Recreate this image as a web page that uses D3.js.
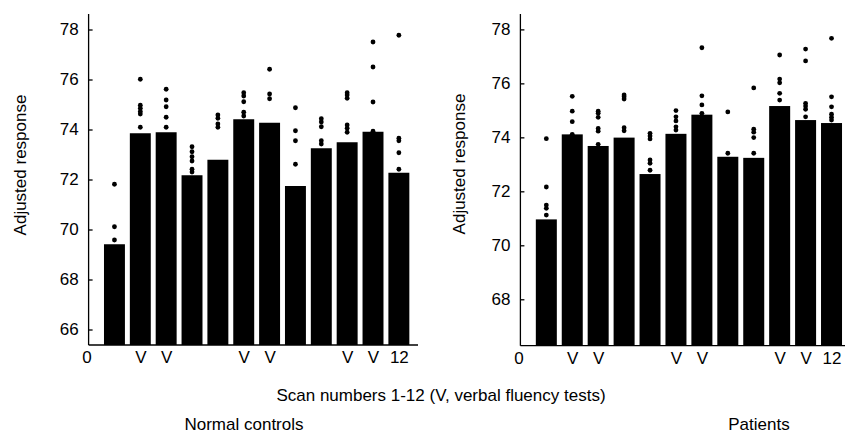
<!DOCTYPE html>
<html><head><meta charset="utf-8">
<script src="https://cdn.jsdelivr.net/npm/d3@7"></script>
<style>
html,body{margin:0;padding:0;background:#fff;}
text{font-family:"Liberation Sans",Arial,sans-serif;fill:#000;}
</style></head>
<body>
<svg id="c" width="845" height="433"></svg>
<script>
// ---- data ----
const scans = [1,2,3,4,5,6,7,8,9,10,11,12];
const xTickValues = [0,2,3,6,7,10,11,12];
const xTickLabels = ["0","V","V","V","V","V","V","12"];
const yTicksControls = [66,68,70,72,74,76,78];
const yTicksPatients = [68,70,72,74,76,78];

const controlsMeans = [69.41,73.85,73.89,72.17,72.79,74.41,74.27,71.74,73.25,73.49,73.91,72.27];
const controlsPoints = [
  [71.81,70.11,69.58],
  [76.01,74.97,74.85,74.72,74.62,74.09],
  [75.61,75.18,74.91,74.49,74.09],
  [73.31,73.11,72.91,72.74,72.41,72.3],
  [74.58,74.45,74.22,74.09],
  [75.47,75.34,75.11,74.69,74.54],
  [76.41,75.42,75.23],
  [74.87,73.95,73.55,72.61],
  [74.43,74.3,74.11,73.55,73.42],
  [75.47,75.38,75.25,74.18,74.05,73.89],
  [77.5,76.5,75.1,73.93],
  [77.77,73.65,73.55,73.07,72.41]
];

const patientsMeans = [70.96,74.11,73.68,73.99,72.64,74.13,74.84,73.28,73.24,75.16,74.64,74.53];
const patientsPoints = [
  [73.95,72.16,71.49,71.37,71.12],
  [75.52,74.97,74.58,74.11],
  [74.97,74.89,74.74,74.33,74.23,73.74],
  [75.57,75.5,75.42,74.36,74.24],
  [74.15,74.05,73.94,73.16,73.04,72.78],
  [74.99,74.76,74.61,74.39,74.27],
  [77.32,75.54,75.2,74.89],
  [74.94,73.41],
  [75.83,74.3,74.19,73.99,73.41],
  [77.05,76.16,76.02,75.63,75.38],
  [77.27,76.83,75.26,75.16,75.04,74.76],
  [77.67,75.5,75.13,74.86,74.74,74.64]
];

const xTitle = "Scan numbers 1-12 (V, verbal fluency tests)";
const yTitle = "Adjusted response";
const panelTitles = ["Normal controls","Patients"];

// ---- drawing ----
const svg = d3.select("#c");
const FS = 17;

function panel(cfg){
  const g = svg.append("g");
  const x = d3.scaleLinear().domain(cfg.xDomain).range(cfg.xRange);
  const y = d3.scaleLinear().domain(cfg.yDomain).range(cfg.yRange);
  const bw = x(0.81) - x(0);

  g.selectAll("rect.bar").data(cfg.means).join("rect")
    .attr("class","bar")
    .attr("x",(d,i)=>x(scans[i]) - bw/2)
    .attr("width",bw)
    .attr("y",d=>y(d))
    .attr("height",d=>y(cfg.yDomain[0]) - y(d))
    .attr("fill","#000");

  const pts = [];
  cfg.points.forEach((arr,i)=>arr.forEach(v=>pts.push({s:scans[i],v})));
  g.selectAll("circle.pt").data(pts).join("circle")
    .attr("class","pt")
    .attr("cx",d=>x(d.s)).attr("cy",d=>y(d.v)).attr("r",2.4)
    .attr("fill","#000");

  const ya = g.append("g")
    .attr("transform",`translate(${x(0)},0)`)
    .call(d3.axisLeft(y).tickValues(cfg.yTicks).tickSize(-4).tickPadding(10).tickFormat(d3.format("d")));
  ya.select(".domain").attr("d",`M0,${cfg.yRange[1]}V${cfg.yRange[0]}`);
  ya.selectAll("path,line").attr("stroke","#000").attr("stroke-width",1.3);
  ya.selectAll("text").style("font-size",FS+"px").attr("fill","#000");

  const xa = g.append("g")
    .attr("transform",`translate(0,${cfg.yRange[0]})`)
    .call(d3.axisBottom(x).tickValues(xTickValues).tickSize(0).tickPadding(6)
      .tickFormat((d,i)=>xTickLabels[i]));
  xa.select(".domain").attr("d",`M${x(0)},0H${cfg.xRange[1]}`).attr("stroke","#000").attr("stroke-width",1.3);
  xa.selectAll("text").style("font-size",FS+"px").attr("fill","#000");
  xa.selectAll(".tick").filter(d=>d===0).select("text").attr("dx",-2);

  g.append("text")
    .attr("transform",`translate(${cfg.yTitleX},${cfg.yTitleY}) rotate(-90)`)
    .attr("text-anchor","middle")
    .style("font-size",FS+"px")
    .text(yTitle);

  g.append("text")
    .attr("x",cfg.titleX).attr("y",430)
    .attr("text-anchor","middle")
    .style("font-size","17px")
    .text(cfg.title);
}

panel({
  means: controlsMeans, points: controlsPoints,
  xDomain:[0,12.74], xRange:[88.6,418],
  yDomain:[65.38,78.62], yRange:[345,14],
  yTicks: yTicksControls,
  yTitleX: 25.5, yTitleY: 165,
  titleX: 244, title: panelTitles[0]
});
panel({
  means: patientsMeans, points: patientsPoints,
  xDomain:[0,12.52], xRange:[520.4,845],
  yDomain:[66.28,78.57], yRange:[345.7,14],
  yTicks: yTicksPatients,
  yTitleX: 465, yTitleY: 164,
  titleX: 759, title: panelTitles[1]
});

svg.append("text")
  .attr("x",441).attr("y",401)
  .attr("text-anchor","middle")
  .style("font-size","17px")
  .text(xTitle);
</script>
</body></html>
